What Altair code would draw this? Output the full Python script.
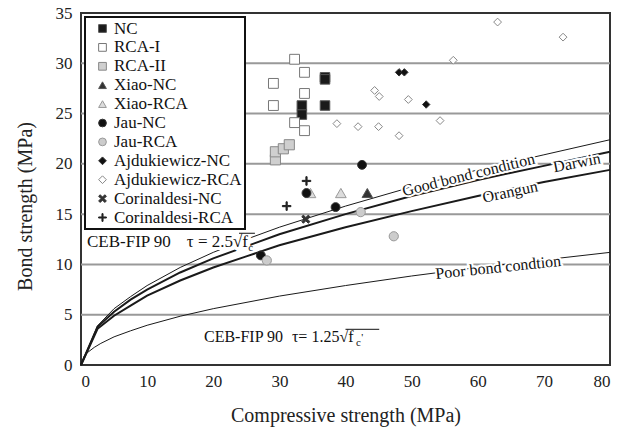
import altair as alt
import pandas as pd

FONT = "Liberation Serif"

# ---------------- data ----------------
series = ["NC", "RCA-I", "RCA-II", "Xiao-NC", "Xiao-RCA", "Jau-NC", "Jau-RCA",
          "Ajdukiewicz-NC", "Ajdukiewicz-RCA", "Corinaldesi-NC", "Corinaldesi-RCA"]

nc_x = [36.9, 36.9, 33.4, 33.4, 36.9]
nc_y = [28.6, 28.4, 25.8, 24.9, 25.8]
rca1_x = [32.3, 33.8, 29.1, 33.8, 29.1, 32.3, 33.8]
rca1_y = [30.4, 29.1, 28.0, 27.0, 25.8, 24.1, 23.3]
rca2_x = [29.4, 29.4, 30.6, 31.5]
rca2_y = [20.4, 21.2, 21.5, 21.9]
xiao_nc_x = [43.3]
xiao_nc_y = [17.1]
xiao_rca_x = [39.3, 34.7]
xiao_rca_y = [17.1, 17.1]
jau_nc_x = [42.5, 34.1, 38.5, 27.2]
jau_nc_y = [19.9, 17.1, 15.7, 10.9]
jau_rca_x = [42.3, 47.3, 28.1]
jau_rca_y = [15.2, 12.8, 10.4]
ajd_nc_x = [48.1, 48.9, 52.2]
ajd_nc_y = [29.1, 29.1, 25.9]
ajd_rca_x = [44.4, 45.1, 49.5, 38.7, 41.9, 45.0, 48.1, 54.3, 63.0, 72.9, 56.3]
ajd_rca_y = [27.3, 26.7, 26.4, 24.0, 23.7, 23.7, 22.8, 24.3, 34.1, 32.6, 30.3]
cor_nc_x = [34.0]
cor_nc_y = [14.5]
cor_rca_x = [34.1, 31.1]
cor_rca_y = [18.3, 15.8]

# curves
fc_curve = [0, 2.5, 5, 7.5, 10, 15, 20, 25, 30, 40, 50, 60, 70, 80]
good_bond = [0, 3.9, 5.6, 6.8, 7.9, 9.7, 11.2, 12.5, 13.7, 15.8, 17.7, 19.4, 20.9, 22.4]
darwin = [0, 3.8, 5.3, 6.5, 7.5, 9.2, 10.6, 11.8, 13.0, 15.0, 16.8, 18.4, 19.8, 21.2]
orangun = [0, 3.6, 4.9, 5.9, 6.9, 8.4, 9.7, 10.8, 11.9, 13.7, 15.3, 16.8, 18.2, 19.4]
fc_poor = [0, 0.5, 1, 2, 3, 5, 7.5, 10, 15, 20, 30, 40, 50, 60, 70, 80]
poor_bond = [0, 0.9, 1.25, 1.75, 2.15, 2.8, 3.4, 3.95, 4.85, 5.6, 6.85, 7.9, 8.85, 9.7, 10.45, 11.2]

grid_y = [5, 10, 15, 20, 25, 30]
x_ticks = [0, 10, 20, 30, 40, 50, 60, 70, 80]
y_ticks = [0, 5, 10, 15, 20, 25, 30, 35]

curve_lbl_text = ["Good bond condition", "Darwin", "Orangun", "Poor bond condtion"]
curve_lbl_x = [58.6, 75.0, 64.9, 63.1]
curve_lbl_y = [18.9, 20.1, 17.2, 9.7]
curve_lbl_angle = [346, 349, 348, 354]

ann1_text = ["CEB-FIP 90", "τ = 2.5√f"]
ann1_x = [0.9, 16.0]
ann1_y = [11.7, 11.7]
ann2_text = ["CEB-FIP 90", "τ= 1.25√f"]
ann2_x = [18.6, 31.9]
ann2_y = [2.3, 2.3]
sub_text = ["c", "c", "'"]
sub_x = [25.3, 41.6, 42.4]
sub_y = [11.3, 1.9, 2.4]
bar_x = [23.9, 40.0]
bar_x2 = [26.3, 45.1]
bar_y = [13.1, 3.55]

# ---------------- styles ----------------
X_PATH = ("M-1,-0.6L-0.6,-1L0,-0.4L0.6,-1L1,-0.6L0.4,0L1,0.6L0.6,1L0,0.4"
          "L-0.6,1L-1,0.6L-0.4,0Z")
PLUS_PATH = ("M-0.14,-1L0.14,-1L0.14,-0.14L1,-0.14L1,0.14L0.14,0.14L0.14,1"
             "L-0.14,1L-0.14,0.14L-1,0.14L-1,-0.14L-0.14,-0.14Z")
shapes = ["square", "square", "square", "triangle-up", "triangle-up", "circle", "circle",
          "diamond", "diamond", X_PATH, PLUS_PATH]
fills = ["#1a1a1a", "#ffffff", "#cfcfcf", "#333333", "#dcdcdc", "#111111", "#cccccc",
         "#111111", "#ffffff", "#333333", "#222222"]
strokes = ["#555555", "#777777", "#888888", "#555555", "#999999", "#333333", "#999999",
           "#333333", "#888888", "#333333", "#222222"]
sizes = [85, 85, 85, 70, 70, 60, 60, 55, 115, 80, 75]
# the size scale uses the data-derived (alphabetical) domain so it stays out of the legend
size_by_name = dict(zip(series, sizes))
sizes_sorted = [size_by_name[s] for s in sorted(series)]

groups = [(nc_x, nc_y), (rca1_x, rca1_y), (rca2_x, rca2_y), (xiao_nc_x, xiao_nc_y),
          (xiao_rca_x, xiao_rca_y), (jau_nc_x, jau_nc_y), (jau_rca_x, jau_rca_y),
          (ajd_nc_x, ajd_nc_y), (ajd_rca_x, ajd_rca_y), (cor_nc_x, cor_nc_y),
          (cor_rca_x, cor_rca_y)]
rows = []
for name, (xs, ys) in zip(series, groups):
    for a, b in zip(xs, ys):
        rows.append({"fc": a, "tau": b, "series": name})
pts = pd.DataFrame(rows)

xscale = alt.Scale(domain=[0, 80], nice=False, zero=True)
yscale = alt.Scale(domain=[0, 35], nice=False, zero=True)

X = alt.X("fc:Q", scale=xscale, axis=alt.Axis(
    values=x_ticks, grid=False, ticks=False, domain=False,
    labelFont=FONT, labelFontSize=17, labelColor="#222", labelPadding=8,
    title="Compressive strength (MPa)", titleFont=FONT, titleFontSize=20,
    titleFontWeight="normal", titleColor="#222", titleX=264.5, titleY=56,
    titleBaseline="alphabetic", titleAlign="center"))
Y = alt.Y("tau:Q", scale=yscale, axis=alt.Axis(
    values=y_ticks, grid=False, ticks=False, domain=False,
    labelFont=FONT, labelFontSize=17, labelColor="#222", labelPadding=9,
    title="Bond strength (MPa)", titleFont=FONT, titleFontSize=20,
    titleFontWeight="normal", titleColor="#222", titleAngle=270,
    titleX=-50, titleY=193, titleAlign="center", titleBaseline="alphabetic"))

grid = alt.Chart(pd.DataFrame({"tau": grid_y})).mark_rule(
    color="#999999", strokeWidth=2).encode(y=Y)


def curve(xs, ys, w):
    return alt.Chart(pd.DataFrame({"fc": xs, "tau": ys})).mark_line(
        color="#1a1a1a", strokeWidth=w).encode(x=X, y=Y)


lines = [curve(fc_curve, good_bond, 1.0), curve(fc_curve, darwin, 2.0),
         curve(fc_curve, orangun, 2.0), curve(fc_poor, poor_bond, 1.0)]

lbl = pd.DataFrame({"fc": curve_lbl_x, "tau": curve_lbl_y, "t": curve_lbl_text,
                    "ang": curve_lbl_angle})
lbl_base = alt.Chart(lbl).encode(x=X, y=Y, text="t:N",
                                 angle=alt.Angle("ang:Q", scale=None))
lbl_halo = lbl_base.mark_text(font=FONT, fontSize=16, align="center", baseline="middle",
                              fill="white", stroke="white", strokeWidth=4)
lbl_text = lbl_base.mark_text(font=FONT, fontSize=16, align="center", baseline="middle",
                              color="#111")


def ann_layers(xs, ys, ts, fs):
    base = alt.Chart(pd.DataFrame({"fc": xs, "tau": ys, "t": ts})).encode(
        x=X, y=Y, text="t:N")
    halo = base.mark_text(font=FONT, fontSize=fs, align="left", baseline="alphabetic",
                          fill="white", stroke="white", strokeWidth=6)
    txt = base.mark_text(font=FONT, fontSize=fs, align="left", baseline="alphabetic",
                         color="#111")
    return halo, txt


ann1_halo, ann1_txt = ann_layers(ann1_x, ann1_y, ann1_text, 17)
ann2_halo, ann2_txt = ann_layers(ann2_x, ann2_y, ann2_text, 16)

sub_txt = alt.Chart(pd.DataFrame({"fc": sub_x, "tau": sub_y, "t": sub_text})).mark_text(
    font=FONT, fontSize=11, align="left", baseline="alphabetic", color="#111").encode(
    x=X, y=Y, text="t:N")
bars = alt.Chart(pd.DataFrame({"fc": bar_x, "fc2": bar_x2, "tau": bar_y})).mark_rule(
    color="#111", strokeWidth=1).encode(x=X, x2="fc2:Q", y=Y)

leg = alt.Legend(title=None, orient="top-left", offset=4, labelFont=FONT,
                 labelFontSize=17, labelColor="#111")
points = alt.Chart(pts).mark_point(opacity=1, filled=True, strokeWidth=1).encode(
    x=X, y=Y,
    shape=alt.Shape("series:N", scale=alt.Scale(domain=series, range=shapes), legend=leg),
    fill=alt.Fill("series:N", scale=alt.Scale(domain=series, range=fills), legend=leg),
    stroke=alt.Stroke("series:N", scale=alt.Scale(domain=series, range=strokes), legend=leg),
    size=alt.Size("series:N", scale=alt.Scale(range=sizes_sorted), legend=None),
)

chart = alt.layer(grid, *lines, lbl_halo, ann1_halo, ann2_halo, lbl_text, ann1_txt,
                  ann2_txt, sub_txt, bars, points).properties(
    width=529, height=352, autosize=alt.AutoSizeParams(type="none"),
    padding={"left": 81, "top": 13, "right": 12, "bottom": 67},
    background="white",
).configure_view(stroke="#333333", strokeWidth=2).configure_legend(
    padding=3, symbolOffset=6, labelOffset=3, rowPadding=0.9, labelFont=FONT,
    labelFontSize=17, labelColor="#111", strokeColor="#111", strokeWidth=2,
    fillColor="white", symbolSize=60, symbolStrokeWidth=1, labelLimit=300)

chart.save("out.html", embed_options={"renderer": "svg", "actions": False})
